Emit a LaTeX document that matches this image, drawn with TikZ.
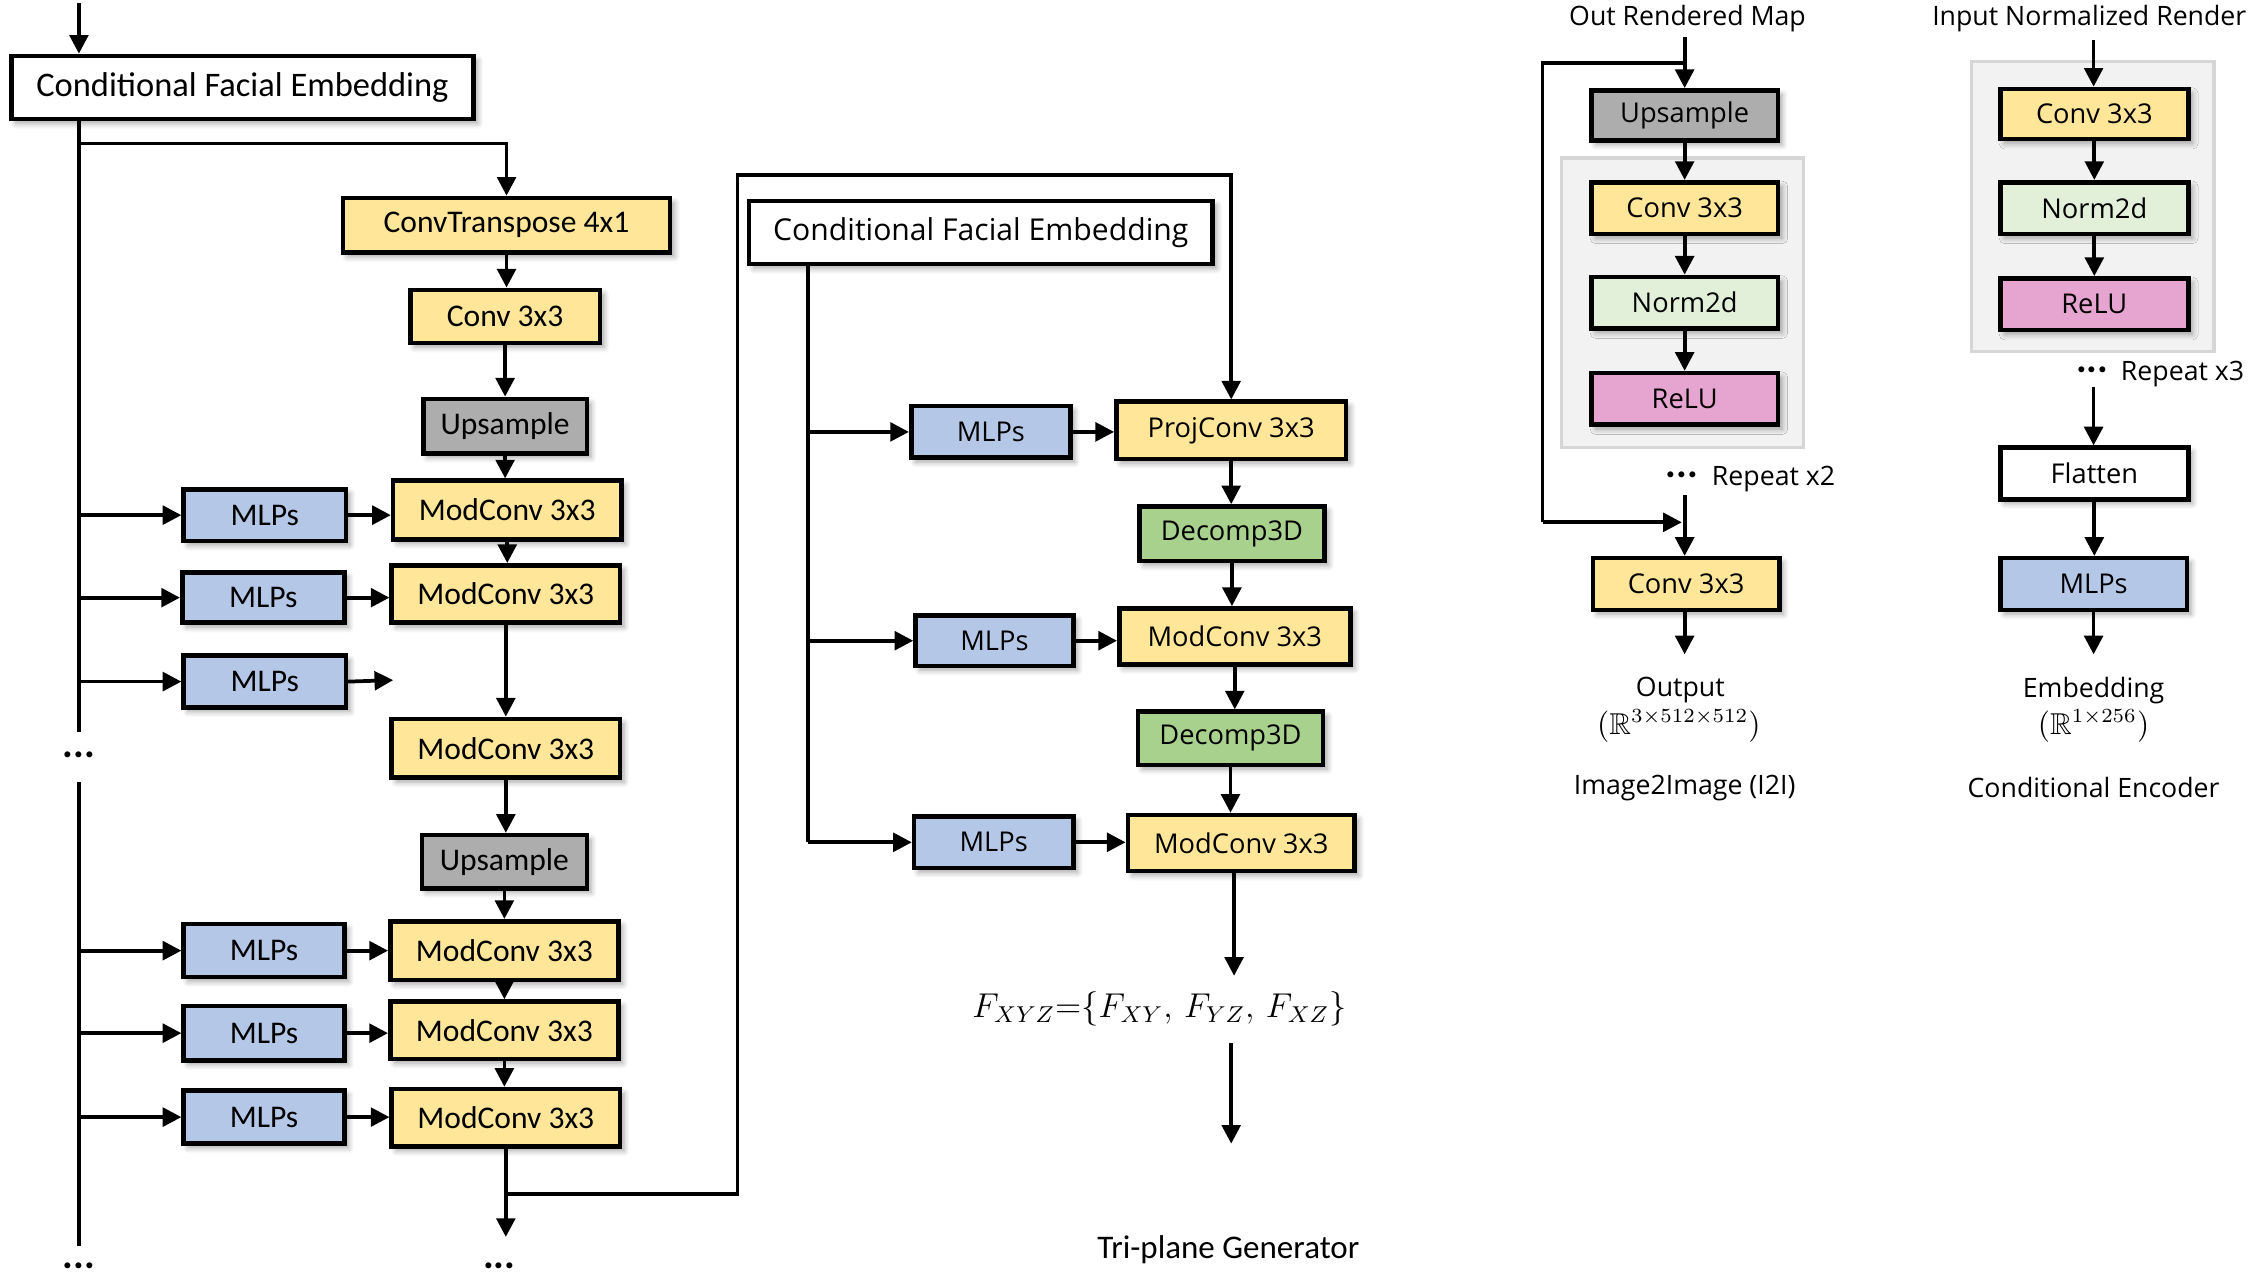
\documentclass[tikz,border=0pt]{standalone}
\usepackage{amssymb}
\usepackage{fontspec}
\setmainfont{Carlito}
\newfontfamily\seg{Open Sans}
\usetikzlibrary{arrows.meta,shadows.blur}
\definecolor{cyel}{HTML}{FFE699}
\definecolor{cblu}{HTML}{B4C7E7}
\definecolor{cgry}{HTML}{ADADAD}
\definecolor{cgrn}{HTML}{A9D18E}
\definecolor{clgr}{HTML}{E2F0D9}
\definecolor{cpnk}{HTML}{E6A5D0}
\definecolor{cbg}{HTML}{F2F2F2}
\definecolor{cbgl}{HTML}{D6D6D6}
\newcommand\bx[7]{\node[#6, minimum width={(#4-#2)*0.5pt}, minimum height={(#5-#3)*0.5pt}] (#1) at ({(#2+#4)/2},{(#3+#5)/2}) {#7};}
\begin{document}
\begin{tikzpicture}[x=0.5pt,y=-0.5pt,
  blk/.style={draw=black, line width=1.6pt, inner sep=0pt, blur shadow={shadow blur steps=6, shadow xshift=1.5pt, shadow yshift=-1.5pt, shadow opacity=35}},
  lf/.style={font=\fontsize{11}{13}\selectfont},
  rf/.style={font=\seg\fontsize{9.5}{11}\selectfont},
  wht/.style={blk, fill=white},
  yel/.style={blk, fill=cyel},
  blu/.style={blk, fill=cblu},
  gry/.style={blk, fill=cgry},
  grn/.style={blk, fill=cgrn},
  lgr/.style={blk, fill=clgr},
  pnk/.style={blk, fill=cpnk},
  grp/.style={draw=cbgl, fill=cbg, line width=1.2pt, inner sep=0pt},
  arr/.style={line width=1.3pt, -{Triangle[width=6.5pt,length=6.5pt]}},
  ln/.style={line width=1.3pt},
  lbl/.style={font=\seg\fontsize{9.3}{11}\selectfont, inner sep=0pt},
  dots/.style={font=\bfseries\fontsize{14}{14}\selectfont, inner sep=0pt}
]
\useasboundingbox (0,0) rectangle (1568,897);
% ---------------- left column ----------------
\bx{cfeA}{8}{39}{330}{83}{wht, font=\fontsize{12}{14}\selectfont}{Conditional Facial Embedding}
\bx{ctr}{239}{138}{467}{176}{yel, lf}{ConvTranspose 4x1}
\bx{cvA}{286}{202}{418}{239}{yel, lf}{Conv 3x3}
\bx{upA}{295}{278}{409}{316}{gry, lf}{Upsample}
\bx{mc1}{274}{335}{433}{376}{yel, lf}{ModConv 3x3}
\bx{mc2}{273}{394}{432}{434}{yel, lf}{ModConv 3x3}
\bx{mc3}{273}{501}{432}{542}{yel, lf}{ModConv 3x3}
\bx{upB}{294}{582}{409}{619}{gry, lf}{Upsample}
\bx{mc4}{272}{642}{431}{683}{yel, lf}{ModConv 3x3}
\bx{mc5}{272}{698}{431}{738}{yel, lf}{ModConv 3x3}
\bx{mc6}{273}{759}{432}{799}{yel, lf}{ModConv 3x3}
\bx{ml1}{128}{341}{241}{377}{blu, lf}{MLPs}
\bx{ml2}{127}{399}{240}{434}{blu, lf}{MLPs}
\bx{ml3}{128}{457}{241}{493}{blu, lf}{MLPs}
\bx{ml4}{128}{644}{240}{681}{blu, lf}{MLPs}
\bx{ml5}{128}{701}{240}{739}{blu, lf}{MLPs}
\bx{ml6}{128}{760}{240}{797}{blu, lf}{MLPs}
\coordinate (topA) at (55,2);
\coordinate (trA) at (55,510);
\coordinate (trB) at (55,545);
\coordinate (trC) at (55,868);
\node[dots] (dA) at (55,526) {...};
\node[dots] (dB) at (55,882) {...};
\coordinate (brA) at (55,100);
\coordinate (ml3o) at (274,474);
\coordinate (endA) at (350,862);
\node[dots] (dC) at (348,882) {...};
\coordinate (loopA) at (350,832);
\coordinate (loopB) at (514,122);
\draw[arr] (topA) -- (topA |- cfeA.north);
\draw[ln] (cfeA.south -| trA) -- (trA);
\draw[ln] (trB) -- (trC);
\draw[arr] (brA) -| (ctr.north);
\foreach \a/\b in {ctr/cvA, cvA/upA, upA/mc1, mc1/mc2, mc2/mc3, mc3/upB, upB/mc4, mc4/mc5, mc5/mc6}
  \draw[arr] (\a.south) -- (\a.south |- \b.north);
\foreach \m/\c in {ml1/mc1, ml2/mc2, ml4/mc4, ml5/mc5, ml6/mc6}{
  \draw[arr] (\m.west -| trA) -- (\m.west);
  \draw[arr] (\m.east) -- (\m.east -| \c.west);}
\draw[arr] (ml3.west -| trA) -- (ml3.west);
\draw[arr] (ml3.east) -- (ml3o);
\draw[arr] (mc6.south) -- (mc6.south |- endA);
% ---------------- middle ----------------
\bx{cfeB}{522}{140}{845}{184}{wht, font=\seg\fontsize{10.5}{12}\selectfont}{Conditional Facial Embedding}
\bx{mlA}{635}{283}{746}{319}{blu, rf}{MLPs}
\bx{mlB}{638}{429}{748}{464}{blu, rf}{MLPs}
\bx{mlC}{637}{569}{748}{605}{blu, rf}{MLPs}
\bx{prj}{778}{280}{938}{320}{yel, rf}{ProjConv 3x3}
\bx{dcA}{794}{353}{923}{391}{grn, rf}{Decomp3D}
\bx{mcA}{780}{424}{941}{463}{yel, rf}{ModConv 3x3}
\bx{dcB}{793}{496}{922}{533}{grn, rf}{Decomp3D}
\bx{mcB}{786}{568}{944}{607}{yel, rf}{ModConv 3x3}
\draw[arr] (mc6.south |- loopA) -- (loopA -| loopB) -- (loopB) -| (prj.north);
\coordinate (trM) at (563,587);
\draw[ln] (cfeB.south -| trM) -- (trM);
\foreach \m/\c in {mlA/prj, mlB/mcA, mlC/mcB}{
  \draw[arr] (\m.west -| trM) -- (\m.west);
  \draw[arr] (\m.east) -- (\m.east -| \c.west);}
\foreach \a/\b in {prj/dcA, dcA/mcA, mcA/dcB, dcB/mcB}
  \draw[arr] (\a.south) -- (\a.south |- \b.north);
\node[inner sep=0pt, font=\fontsize{12}{14}\selectfont] (fml) at (808,703) {$F_{XYZ}{=}\{F_{XY},\, F_{YZ},\, F_{XZ}\}$};
\coordinate (fin) at (860,680);
\coordinate (fo1) at (858,727);
\coordinate (fo2) at (858,797);
\draw[arr] (mcB.south -| fin) -- (fin);
\draw[arr] (fo1) -- (fo2);
\node[inner sep=0pt, font=\fontsize{11.5}{13}\selectfont] (tpg) at (856,871) {Tri-plane Generator};
% ---------------- I2I ----------------
\bx{grpA}{1088}{110}{1257}{312}{grp}{}
\bx{upC}{1109}{63}{1239}{98}{gry, rf}{Upsample}
\bx{cvB}{1109}{127}{1239}{163}{yel, rf}{Conv 3x3}
\bx{nmA}{1109}{193}{1239}{229}{lgr, rf}{Norm2d}
\bx{reA}{1109}{260}{1239}{296}{pnk, rf}{ReLU}
\bx{cvC}{1110}{389}{1240}{425}{yel, rf}{Conv 3x3}
\node[lbl] (ttA) at (1176,13) {Out Rendered Map};
\coordinate (inA) at (1174,26);
\coordinate (lpA) at (1174,44);
\coordinate (lpB) at (1075,364);
\coordinate (lpC) at (1172,364);
\node[dots] (rdA) at (1172,331) {...};
\node[lbl] (rpA) at (1236,334) {Repeat x2};
\coordinate (rpAo) at (1174,345);
\coordinate (outA) at (1174,456);
\draw[arr] (inA) -- (upC.north -| inA);
\draw[ln] (lpA) -| (lpB);
\draw[arr] (lpB) -- (lpC);
\foreach \a/\b in {upC/cvB, cvB/nmA, nmA/reA}
  \draw[arr] (\a.south) -- (\a.south |- \b.north);
\draw[arr] (rpAo) -- (rpAo |- cvC.north);
\draw[arr] (cvC.south -| outA) -- (outA);
\node[lbl] (oA) at (1171,481) {Output};
\node[lbl, font=\fontsize{10.5}{12}\selectfont] (oAm) at (1170,506) {$(\mathbb{R}^{3\times512\times512})$};
\node[lbl] (cA) at (1174,549) {Image2Image (I2I)};
% ---------------- Encoder ----------------
\bx{grpB}{1374}{43}{1543}{245}{grp}{}
\bx{cvD}{1394}{62}{1525}{97}{yel, rf}{Conv 3x3}
\bx{nmB}{1394}{127}{1525}{163}{lgr, rf}{Norm2d}
\bx{reB}{1394}{194}{1525}{230}{pnk, rf}{ReLU}
\bx{flt}{1394}{312}{1525}{348}{wht, rf}{Flatten}
\bx{mlD}{1394}{389}{1524}{425}{blu, rf}{MLPs}
\node[lbl] (ttB) at (1456,13) {Input Normalized Render};
\coordinate (inB) at (1459,28);
\node[dots] (rdB) at (1458,258) {...};
\node[lbl] (rpB) at (1521,261) {Repeat x3};
\coordinate (rpBo) at (1459,270);
\coordinate (outB) at (1459,456);
\draw[arr] (inB) -- (inB |- cvD.north);
\foreach \a/\b in {cvD/nmB, nmB/reB, flt/mlD}
  \draw[arr] (\a.south) -- (\a.south |- \b.north);
\draw[arr] (rpBo) -- (rpBo |- flt.north);
\draw[arr] (mlD.south -| outB) -- (outB);
\node[lbl] (oB) at (1459,481) {Embedding};
\node[lbl, font=\fontsize{10.5}{12}\selectfont] (oBm) at (1459,506) {$(\mathbb{R}^{1\times256})$};
\node[lbl] (cB) at (1459,549) {Conditional Encoder};
\end{tikzpicture}
\end{document}
